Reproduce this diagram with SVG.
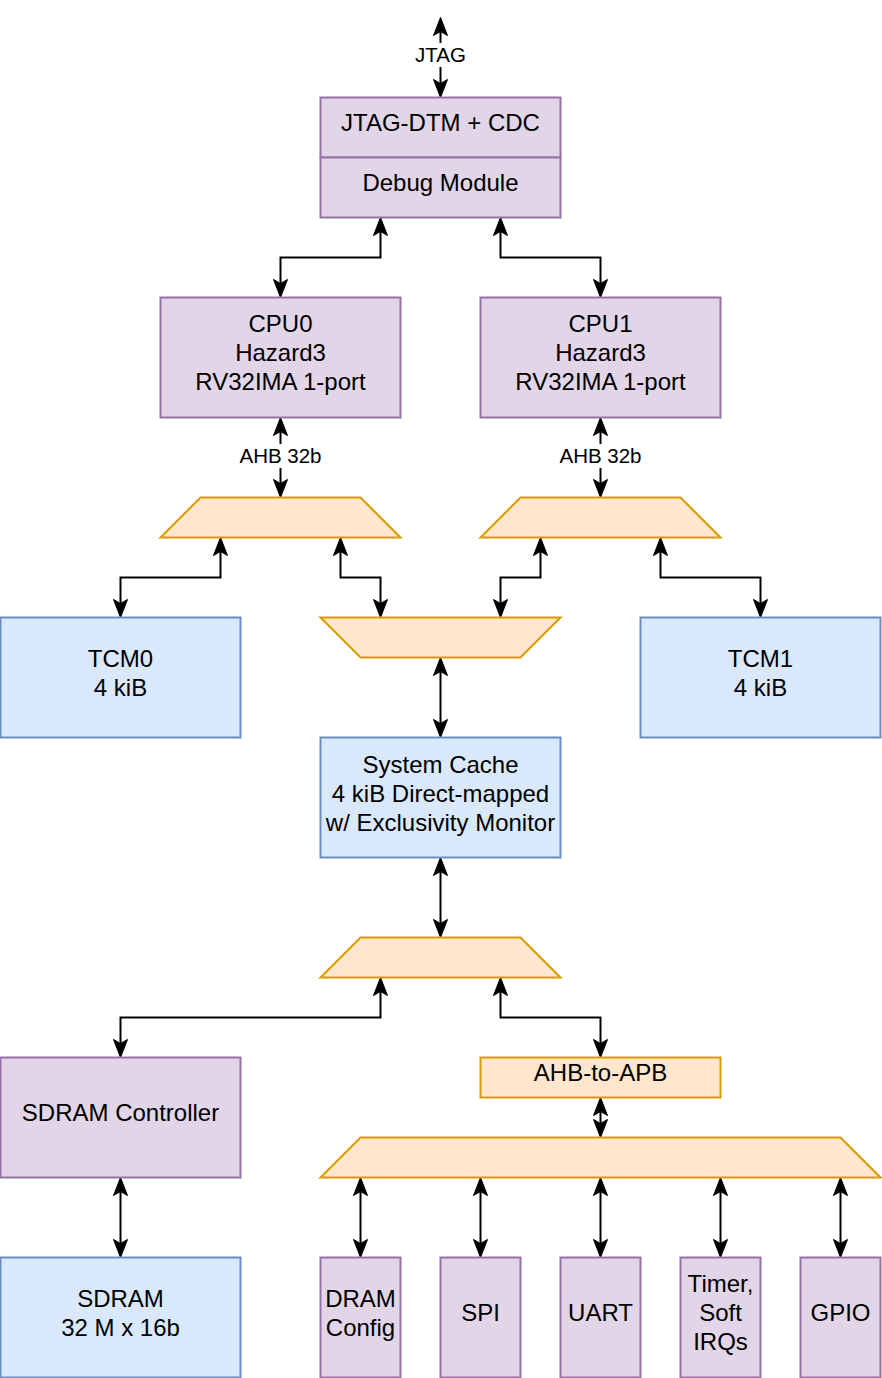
<svg xmlns="http://www.w3.org/2000/svg" width="882" height="1378" viewBox="0 0 882 1378">
<style>
  .p { fill: #e1d5e7; stroke: #9673a6; stroke-width: 2; }
  .b { fill: #dae8fc; stroke: #6c8ebf; stroke-width: 2; }
  .o { fill: #ffe6cc; stroke: #d79b00; stroke-width: 2; }
  .t { font-family: "Liberation Sans", Arial, sans-serif; font-size: 24px; fill: #000; text-anchor: middle; }
  .l { font-family: "Liberation Sans", Arial, sans-serif; font-size: 20.5px; fill: #000; text-anchor: middle; }
  .c { fill: none; stroke: #000; stroke-width: 2; marker-start: url(#ah); marker-end: url(#ah); }
</style>
<defs>
  <marker id="ah" viewBox="-22 -9 24 18" refX="-4" refY="0" markerWidth="24" markerHeight="18" markerUnits="userSpaceOnUse" orient="auto-start-reverse">
    <path d="M0,0 L-18,-7 L-14,0 L-18,7 Z" fill="#000" stroke="#000" stroke-width="1"/>
  </marker>
</defs>
<rect width="882" height="1378" fill="#fff"/>

<g id="connectors">
  <path class="c" d="M440.5,21.5 V93.5"/>
  <path class="c" d="M380.5,221.5 V257.5 H280.5 V293.5"/>
  <path class="c" d="M500.5,221.5 V257.5 H600.5 V293.5"/>
  <path class="c" d="M280.5,421.5 V493.5"/>
  <path class="c" d="M600.5,421.5 V493.5"/>
  <path class="c" d="M220.5,541.5 V577.5 H120.5 V613.5"/>
  <path class="c" d="M340.5,541.5 V577.5 H380.5 V613.5"/>
  <path class="c" d="M540.5,541.5 V577.5 H500.5 V613.5"/>
  <path class="c" d="M660.5,541.5 V577.5 H760.5 V613.5"/>
  <path class="c" d="M440.5,661.5 V733.5"/>
  <path class="c" d="M440.5,861.5 V933.5"/>
  <path class="c" d="M380.5,981.5 V1017.5 H120.5 V1053.5"/>
  <path class="c" d="M500.5,981.5 V1017.5 H600.5 V1053.5"/>
  <path class="c" d="M600.5,1101.5 V1133.5"/>
  <path class="c" d="M120.5,1181.5 V1253.5"/>
  <path class="c" d="M360.5,1181.5 V1253.5"/>
  <path class="c" d="M480.5,1181.5 V1253.5"/>
  <path class="c" d="M600.5,1181.5 V1253.5"/>
  <path class="c" d="M720.5,1181.5 V1253.5"/>
  <path class="c" d="M840.5,1181.5 V1253.5"/>
  <rect x="416" y="43" width="49" height="24" fill="#fff"/>
  <text class="l" x="440.5" y="62">JTAG</text>
  <rect x="237" y="444" width="87" height="24" fill="#fff"/>
  <text class="l" x="280.5" y="462.5">AHB 32b</text>
  <rect x="557" y="444" width="87" height="24" fill="#fff"/>
  <text class="l" x="600.5" y="462.5">AHB 32b</text>
</g>

<g id="jtag-dtm">
  <rect class="p" x="320.5" y="97.5" width="240" height="60"/>
  <text class="t" x="440.5" y="131">JTAG-DTM + CDC</text>
</g>
<g id="debug-module">
  <rect class="p" x="320.5" y="157.5" width="240" height="60"/>
  <text class="t" x="440.5" y="191">Debug Module</text>
</g>

<g id="cpu0">
  <rect class="p" x="160.5" y="297.5" width="240" height="120"/>
  <text class="t" x="280.5" y="332">CPU0<tspan x="280.5" dy="29">Hazard3</tspan><tspan x="280.5" dy="29">RV32IMA 1-port</tspan></text>
</g>
<g id="cpu1">
  <rect class="p" x="480.5" y="297.5" width="240" height="120"/>
  <text class="t" x="600.5" y="332">CPU1<tspan x="600.5" dy="29">Hazard3</tspan><tspan x="600.5" dy="29">RV32IMA 1-port</tspan></text>
</g>

<g id="split0">
  <polygon class="o" points="200.5,497.5 360.5,497.5 400.5,537.5 160.5,537.5"/>
</g>
<g id="split1">
  <polygon class="o" points="520.5,497.5 680.5,497.5 720.5,537.5 480.5,537.5"/>
</g>
<g id="arbiter">
  <polygon class="o" points="320.5,617.5 560.5,617.5 520.5,657.5 360.5,657.5"/>
</g>

<g id="tcm0">
  <rect class="b" x="0.5" y="617.5" width="240" height="120"/>
  <text class="t" x="120.5" y="666.5">TCM0<tspan x="120.5" dy="29">4 kiB</tspan></text>
</g>
<g id="tcm1">
  <rect class="b" x="640.5" y="617.5" width="240" height="120"/>
  <text class="t" x="760.5" y="666.5">TCM1<tspan x="760.5" dy="29">4 kiB</tspan></text>
</g>

<g id="system-cache">
  <rect class="b" x="320.5" y="737.5" width="240" height="120"/>
  <text class="t" x="440.5" y="773">System Cache<tspan x="440.5" dy="29">4 kiB Direct-mapped</tspan><tspan x="440.5" dy="29">w/ Exclusivity Monitor</tspan></text>
</g>

<g id="split2">
  <polygon class="o" points="360.5,937.5 520.5,937.5 560.5,977.5 320.5,977.5"/>
</g>

<g id="sdram-controller">
  <rect class="p" x="0.5" y="1057.5" width="240" height="120"/>
  <text class="t" x="120.5" y="1121">SDRAM Controller</text>
</g>
<g id="ahb-to-apb">
  <rect class="o" x="480.5" y="1057.5" width="240" height="40"/>
  <text class="t" x="600.5" y="1081">AHB-to-APB</text>
</g>

<g id="apb-split">
  <polygon class="o" points="360.5,1137.5 840.5,1137.5 880.5,1177.5 320.5,1177.5"/>
</g>

<g id="sdram">
  <rect class="b" x="0.5" y="1257.5" width="240" height="120"/>
  <text class="t" x="120.5" y="1306.5">SDRAM<tspan x="120.5" dy="29">32 M x 16b</tspan></text>
</g>
<g id="dram-config">
  <rect class="p" x="320.5" y="1257.5" width="80" height="120"/>
  <text class="t" x="360.5" y="1306.5">DRAM<tspan x="360.5" dy="29">Config</tspan></text>
</g>
<g id="spi">
  <rect class="p" x="440.5" y="1257.5" width="80" height="120"/>
  <text class="t" x="480.5" y="1321">SPI</text>
</g>
<g id="uart">
  <rect class="p" x="560.5" y="1257.5" width="80" height="120"/>
  <text class="t" x="600.5" y="1321">UART</text>
</g>
<g id="timer">
  <rect class="p" x="680.5" y="1257.5" width="80" height="120"/>
  <text class="t" x="720.5" y="1292">Timer,<tspan x="720.5" dy="29">Soft</tspan><tspan x="720.5" dy="29">IRQs</tspan></text>
</g>
<g id="gpio">
  <rect class="p" x="800.5" y="1257.5" width="80" height="120"/>
  <text class="t" x="840.5" y="1321">GPIO</text>
</g>
</svg>
